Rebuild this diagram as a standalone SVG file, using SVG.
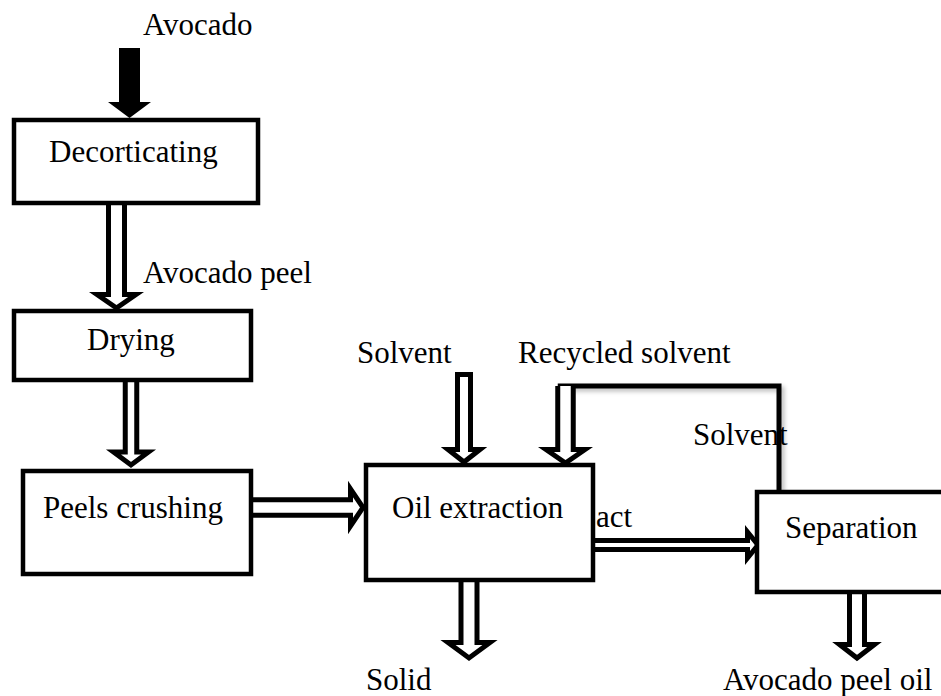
<svg xmlns="http://www.w3.org/2000/svg" width="941" height="696" viewBox="0 0 941 696">
<style>
  .box { fill: #fff; stroke: #000; stroke-width: 4.5; stroke-linejoin: miter; }
  .harrow { fill: #fff; stroke: #000; stroke-width: 5; stroke-linejoin: miter; stroke-miterlimit: 10; }
  .line { fill: none; stroke: #000; stroke-width: 5; stroke-linejoin: miter; }
  text { font-family: "Liberation Serif", "Times New Roman", serif; font-size: 31px; fill: #000; }
</style>
<defs>
  <filter id="sh" x="-10%" y="-10%" width="130%" height="130%">
    <feDropShadow dx="3" dy="3" stdDeviation="2" flood-color="#000" flood-opacity="0.25"/>
  </filter>
</defs>
<rect width="941" height="696" fill="#fff"/>

<g id="labels">
  <text x="143" y="35">Avocado</text>
  <text x="143" y="283">Avocado peel</text>
  <text x="357" y="363">Solvent</text>
  <text x="518" y="363">Recycled solvent</text>
  <text x="693" y="445">Solvent</text>
  <text x="596" y="527">act</text>
  <text x="366" y="690">Solid</text>
  <text x="723" y="690">Avocado peel oil</text>
</g>

<g id="connectors">
  <polygon points="119,48 140,48 140,102 151,102 129.5,118 108,102 119,102" fill="#000"/>
  <path class="harrow" d="M108.5,203 V294.5 H97 L116.5,308 L136,294.5 H124.5 V203"/>
  <path class="harrow" d="M125.25,380 V452 H113.5 L131,465 L148.5,452 H136.75 V380"/>
  <path class="harrow" d="M251,499.75 H350.5 V489 L363,507.5 L350.5,526 V515.25 H251"/>
  <path class="harrow" d="M457.5,374.5 V449.5 H448 L464,462 L480,449.5 H470.5 V374.5 Z"/>
  <path class="line" filter="url(#sh)" d="M557.75,386 H779 V492"/>
  <path class="harrow" d="M557.75,386 V449.5 H546 L565.5,463 L585,449.5 H573.25 V386"/>
  <path class="harrow" d="M593,540.5 H747.5 V532 L758,545 L747.5,558 V549.5 H593"/>
  <path class="harrow" d="M461,580 V642.5 H448 L469,658 L490,642.5 H477 V580"/>
  <path class="harrow" d="M849.5,592 V644.5 H839.5 L857,658 L874.5,644.5 H864.5 V592"/>
</g>

<g id="decorticating">
  <rect class="box" x="14" y="120" width="244" height="83"/>
  <text x="49" y="162">Decorticating</text>
</g>
<g id="drying">
  <rect class="box" x="14" y="311" width="237" height="69"/>
  <text x="87" y="350">Drying</text>
</g>
<g id="peels-crushing">
  <rect class="box" x="23" y="471" width="228" height="103"/>
  <text x="43" y="518">Peels crushing</text>
</g>
<g id="oil-extraction">
  <rect class="box" x="366" y="465" width="227" height="115"/>
  <text x="392" y="518">Oil extraction</text>
</g>
<g id="separation">
  <rect class="box" x="757" y="492" width="200" height="100"/>
  <text x="785" y="538">Separation</text>
</g>
</svg>
